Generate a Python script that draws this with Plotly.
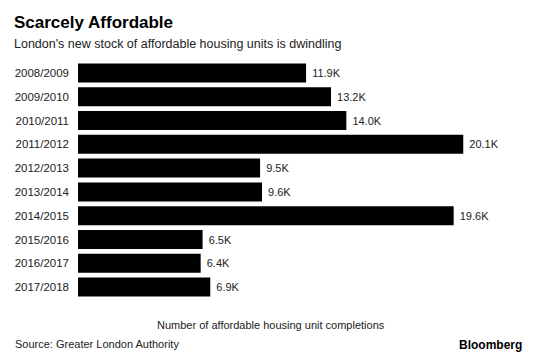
import plotly.graph_objects as go

categories = ["2008/2009", "2009/2010", "2010/2011", "2011/2012", "2012/2013",
              "2013/2014", "2014/2015", "2015/2016", "2016/2017", "2017/2018"]
values_k = [11.9, 13.2, 14.0, 20.1, 9.5, 9.6, 19.6, 6.5, 6.4, 6.9]
value_labels = ["11.9K", "13.2K", "14.0K", "20.1K", "9.5K", "9.6K", "19.6K", "6.5K", "6.4K", "6.9K"]

W, H = 560, 357
L, R, T, B = 78, 22, 61, 58
pw, ph = W - L - R, H - T - B

def px(x):
    return (x - L) / pw

def py(y):
    return (H - B - y) / ph

FONT = "Liberation Sans, Arial, Helvetica, sans-serif"

fig = go.Figure(go.Bar(
    x=values_k, y=categories, orientation="h",
    marker=dict(color="#000000", line=dict(width=0)),
    width=0.8,
    text=[" " + t for t in value_labels], textposition="outside",
    textfont=dict(family=FONT, size=11, color="#222222"),
    cliponaxis=False,
    hoverinfo="skip",
))

fig.update_layout(
    width=W, height=H,
    margin=dict(l=L, r=R, t=T, b=B, pad=0),
    paper_bgcolor="white", plot_bgcolor="white",
    showlegend=False,
    xaxis=dict(range=[0, 24.0], showgrid=False, zeroline=False, showticklabels=False,
               showline=False, ticks=""),
    yaxis=dict(autorange="reversed", showgrid=False, zeroline=False, showline=False,
               ticks="", ticklabelstandoff=8,
               tickfont=dict(family=FONT, size=11.5, color="#222222")),
    font=dict(family=FONT),
    annotations=[
        dict(text="<b>Scarcely Affordable</b>", x=px(12), y=py(23), xref="paper", yref="paper",
             xanchor="left", yanchor="middle", showarrow=False,
             font=dict(family=FONT, size=17, color="#000000")),
        dict(text="London's new stock of affordable housing units is dwindling", x=px(12), y=py(44),
             xref="paper", yref="paper", xanchor="left", yanchor="middle", showarrow=False,
             font=dict(family=FONT, size=12.5, color="#222222")),
        dict(text="Number of affordable housing unit completions", x=px(271), y=py(325),
             xref="paper", yref="paper", xanchor="center", yanchor="middle", showarrow=False,
             font=dict(family=FONT, size=11, color="#222222")),
        dict(text="Source: Greater London Authority", x=px(13), y=py(344),
             xref="paper", yref="paper", xanchor="left", yanchor="middle", showarrow=False,
             font=dict(family=FONT, size=11, color="#222222")),
        dict(text="<b>Bloomberg</b>", x=px(524), y=py(345),
             xref="paper", yref="paper", xanchor="right", yanchor="middle", showarrow=False,
             font=dict(family=FONT, size=12, color="#000000")),
    ],
)

fig.write_html(
    "out.html",
    config={"displayModeBar": False, "staticPlot": True},
    post_script="document.body.style.margin='0';document.body.style.padding='0';"
                "document.body.style.overflow='hidden';",
)
